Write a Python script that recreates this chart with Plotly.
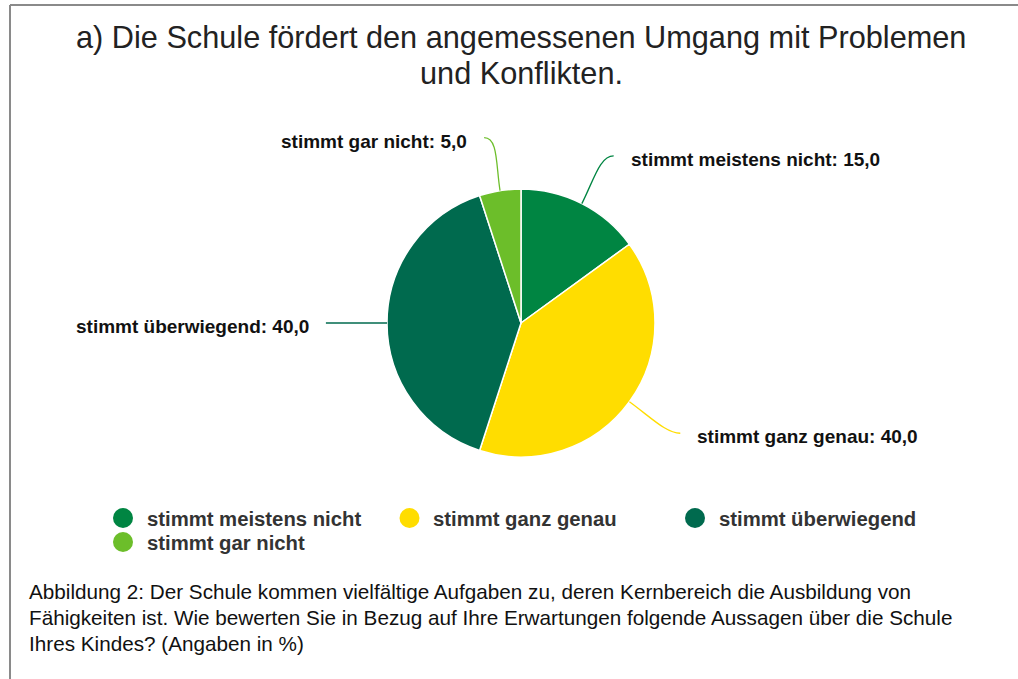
import math
import plotly.graph_objects as go

# ---- data ----
categories = ["stimmt meistens nicht", "stimmt ganz genau", "stimmt überwiegend", "stimmt gar nicht"]
values = [15.0, 40.0, 40.0, 5.0]
colors = ["#008542", "#FFDD00", "#006A4E", "#6CBE2A"]
title_lines = ["a) Die Schule fördert den angemessenen Umgang mit Problemen", "und Konflikten."]
caption_lines = [
    "Abbildung 2: Der Schule kommen vielfältige Aufgaben zu, deren Kernbereich die Ausbildung von",
    "Fähigkeiten ist. Wie bewerten Sie in Bezug auf Ihre Erwartungen folgende Aussagen über die Schule",
    "Ihres Kindes? (Angaben in %)",
]

W, H = 1018, 679
FONT = "Liberation Sans, Arial, sans-serif"


def px(x):
    return x / W


def py(y):
    return 1 - y / H


# pie geometry (pixels)
cx, cy, r = 521, 323, 134

fig = go.Figure()
fig.add_trace(go.Pie(
    labels=categories, values=values, sort=False, direction="clockwise", rotation=0,
    marker=dict(colors=colors, line=dict(color="white", width=1.5)),
    textinfo="none", hoverinfo="label+value", showlegend=False,
    domain=dict(x=[px(cx - r), px(cx + r)], y=[py(cy + r), py(cy - r)]),
))

shapes = []
annotations = []

# border of the frame
shapes.append(dict(type="line", xref="paper", yref="paper", x0=px(10), x1=px(10), y0=py(5), y1=0,
                   line=dict(color="#8a8a8a", width=2)))
shapes.append(dict(type="line", xref="paper", yref="paper", x0=px(10), x1=1, y0=py(5), y1=py(5),
                   line=dict(color="#8a8a8a", width=2)))

# leader lines + labels computed from slice angles
total = sum(values)
cum = 0.0
for cat, val, col in zip(categories, values, colors):
    mid = (cum + val / 2) / total * 2 * math.pi
    cum += val
    sx, sy = math.sin(mid), -math.cos(mid)
    side = 1 if sx > 0.01 else -1
    p0 = (cx + r * sx, cy + r * sy)
    p1 = (cx + 1.2 * r * sx, cy + 1.2 * r * sy)
    p3 = (cx + 1.40 * r * sx + side * 7.5, cy + 1.40 * r * sy)
    p2 = (p3[0] - side * 14, p3[1])
    path = "M {} {} C {} {} {} {} {} {}".format(
        px(p0[0]), py(p0[1]), px(p1[0]), py(p1[1]), px(p2[0]), py(p2[1]), px(p3[0]), py(p3[1]))
    shapes.append(dict(type="path", xref="paper", yref="paper", path=path,
                       line=dict(color=col, width=1.3)))
    label = "<b>{}: {}</b>".format(cat, ("%.1f" % val).replace(".", ","))
    annotations.append(dict(
        xref="paper", yref="paper", x=px(p3[0] + side * 15), y=py(p3[1] + 3.5),
        xanchor="left" if side > 0 else "right", yanchor="middle",
        text=label, showarrow=False, font=dict(family=FONT, size=19, color="#111111")))

# title
for i, line in enumerate(title_lines):
    annotations.append(dict(xref="paper", yref="paper", x=px(521), y=py(37 + 36 * i),
                            xanchor="center", yanchor="middle", text=line, showarrow=False,
                            font=dict(family=FONT, size=30.7, color="#222222")))

# legend (manual, circle markers)
leg_x = [123, 409.5, 695]
for i, (cat, col) in enumerate(zip(categories, colors)):
    row, colidx = divmod(i, 3)
    mx = leg_x[colidx]
    my = 518 + 24 * row
    shapes.append(dict(type="circle", xref="paper", yref="paper",
                       x0=px(mx - 10), x1=px(mx + 10), y0=py(my + 10), y1=py(my - 10),
                       fillcolor=col, line=dict(width=0)))
    annotations.append(dict(xref="paper", yref="paper", x=px(mx + 21.5), y=py(my + 1),
                            xanchor="left", yanchor="middle", text="<b>" + cat + "</b>",
                            showarrow=False, font=dict(family=FONT, size=20.3, color="#333333")))

# caption
for i, line in enumerate(caption_lines):
    annotations.append(dict(xref="paper", yref="paper", x=px(27), y=py(591 + 26 * i),
                            xanchor="left", yanchor="middle", text=line, showarrow=False,
                            font=dict(family=FONT, size=20.7, color="#111111")))

fig.update_layout(
    width=W, height=H, margin=dict(l=0, r=0, t=0, b=0),
    paper_bgcolor="white", plot_bgcolor="white",
    shapes=shapes, annotations=annotations, showlegend=False,
)

fig.write_html("out.html", config={"displayModeBar": False},
               post_script="document.body.style.margin='0';")
